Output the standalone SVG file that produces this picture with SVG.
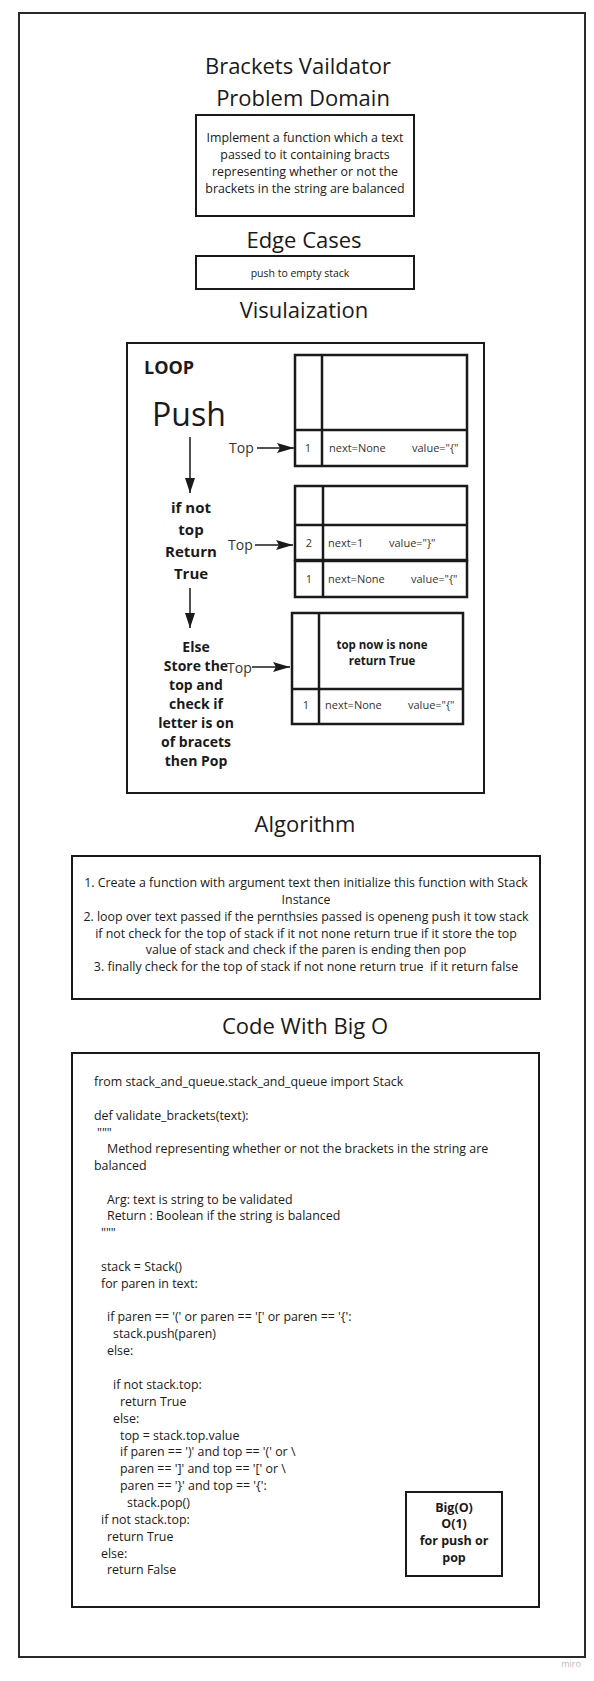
<svg xmlns="http://www.w3.org/2000/svg" width="594" height="1681" viewBox="0 0 594 1681">
<style>
text{font-family:"Open Sans","Liberation Sans",sans-serif;fill:#1a1a1a}
.h{font-size:22px;text-anchor:middle}
.box{fill:#fff;stroke:#1a1a1a;stroke-width:2}
.sb{fill:none;stroke:#1a1a1a;stroke-width:2.5}
.t{font-size:12.4px;text-anchor:middle}
.c{font-size:12.4px}
.b{font-weight:bold;font-size:14px;text-anchor:middle}
.b2{font-weight:bold;font-size:15px;text-anchor:middle}
.s{font-size:11px;fill:#333}
.sm{font-size:11px;fill:#333;text-anchor:middle}
.top{font-size:14px;fill:#333}
.con{stroke:#1a1a1a;stroke-width:1.5;fill:none}
</style>
<defs>
<marker id="ah" markerWidth="17" markerHeight="10" refX="17" refY="5" orient="auto" markerUnits="userSpaceOnUse">
<path d="M0,0 L17,5 L0,10 L3,5 z" fill="#1a1a1a"/>
</marker>
<marker id="av" markerWidth="15" markerHeight="10" refX="15" refY="5" orient="auto" markerUnits="userSpaceOnUse">
<path d="M0,0 L15,5 L0,10 z" fill="#1a1a1a"/>
</marker>
</defs>
<rect width="594" height="1681" fill="#fff"/>
<g id="frame">
<rect x="19" y="13" width="566" height="1644" fill="none" stroke="#2a2a2a" stroke-width="2"/>
<text x="571" y="1667" style="font-size:9px;fill:#bbb;text-anchor:middle">miro</text>
</g>
<g id="title">
<text class="h" x="298" y="74">Brackets Vaildator</text>
<text class="h" x="303" y="106">Problem Domain</text>
</g>
<g id="problem-domain">
<rect class="box" x="196" y="115" width="218" height="101"/>
<text class="t" x="305" y="142">Implement a function which a text</text>
<text class="t" x="305" y="159">passed to it containing bracts</text>
<text class="t" x="305" y="176">representing whether or not the</text>
<text class="t" x="305" y="193">brackets in the string are balanced</text>
</g>
<g id="edge-cases">
<text class="h" x="304" y="248">Edge Cases</text>
<rect class="box" x="196" y="256" width="218" height="33"/>
<text x="300" y="277" style="font-size:10.5px;text-anchor:middle">push to empty stack</text>
</g>
<g id="visualization">
<text class="h" x="304" y="318">Visulaization</text>
<rect class="box" x="127" y="343" width="357" height="450"/>
<text x="144" y="374" style="font-size:18px;font-weight:bold">LOOP</text>
<text x="152" y="426" style="font-size:32px">Push</text>
</g>
<g id="if-not-top">
<text class="b2" x="191" y="513">if not</text>
<text class="b2" x="191" y="535">top</text>
<text class="b2" x="191" y="557">Return</text>
<text class="b2" x="191" y="579">True</text>
</g>
<g id="else-pop">
<text class="b" x="196" y="652">Else</text>
<text class="b" x="196" y="671">Store the</text>
<text class="b" x="196" y="690">top and</text>
<text class="b" x="196" y="709">check if</text>
<text class="b" x="196" y="728">letter is on</text>
<text class="b" x="196" y="747">of bracets</text>
<text class="b" x="196" y="766">then Pop</text>
</g>
<g id="stack-1">
<rect class="sb" x="295" y="355" width="172" height="111"/>
<line class="sb" x1="322" y1="355" x2="322" y2="466"/>
<line class="sb" x1="295" y1="430" x2="467" y2="430"/>
<text class="sm" x="308" y="452">1</text>
<text class="s" x="329" y="452">next=None</text>
<text class="s" x="412" y="452">value="{"</text>
</g>
<g id="stack-2">
<rect class="sb" x="295" y="486" width="172" height="74"/>
<rect class="sb" x="295" y="561" width="172" height="36"/>
<line class="sb" x1="323" y1="486" x2="323" y2="597"/>
<line class="sb" x1="295" y1="525" x2="467" y2="525"/>
<text class="sm" x="309" y="547">2</text>
<text class="s" x="328" y="547">next=1</text>
<text class="s" x="389" y="547">value="}"</text>
<text class="sm" x="309" y="583">1</text>
<text class="s" x="328" y="583">next=None</text>
<text class="s" x="411" y="583">value="{"</text>
</g>
<g id="stack-3">
<rect class="sb" x="292" y="613" width="171" height="111"/>
<line class="sb" x1="319" y1="613" x2="319" y2="724"/>
<line class="sb" x1="292" y1="689" x2="463" y2="689"/>
<text x="382" y="649" style="font-size:11.5px;font-weight:bold;text-anchor:middle">top now is none</text>
<text x="382" y="665" style="font-size:11.5px;font-weight:bold;text-anchor:middle">return True</text>
<text class="sm" x="306" y="709">1</text>
<text class="s" x="325" y="709">next=None</text>
<text class="s" x="408" y="709">value="{"</text>
</g>
<g id="top-labels">
<text class="top" x="229" y="453">Top</text>
<text class="top" x="228" y="550">Top</text>
<text class="top" x="227" y="673">Top</text>
</g>
<g id="connectors">
<line class="con" x1="190" y1="437" x2="190" y2="493" marker-end="url(#av)"/>
<line class="con" x1="190" y1="588" x2="190" y2="628" marker-end="url(#av)"/>
<line class="con" x1="257" y1="448" x2="294" y2="448" marker-end="url(#ah)"/>
<line class="con" x1="255" y1="545" x2="293" y2="545" marker-end="url(#ah)"/>
<line class="con" x1="252" y1="667" x2="290" y2="667" marker-end="url(#ah)"/>
</g>
<g id="algorithm">
<text class="h" x="305" y="832">Algorithm</text>
<rect class="box" x="72" y="856" width="468" height="143"/>
<text class="t" x="306" y="887">1. Create a function with argument text then initialize this function with Stack</text>
<text class="t" x="306" y="904">Instance</text>
<text class="t" x="306" y="921">2. loop over text passed if the pernthsies passed is openeng push it tow stack</text>
<text class="t" x="306" y="938">if not check for the top of stack if it not none return true if it store the top</text>
<text class="t" x="306" y="954">value of stack and check if the paren is ending then pop</text>
<text class="t" x="306" y="971" xml:space="preserve">3. finally check for the top of stack if not none return true  if it return false</text>
</g>
<g id="code">
<text class="h" x="305" y="1034">Code With Big O</text>
<rect class="box" x="72" y="1053" width="467" height="554"/>
<g xml:space="preserve">
<text class="c" x="94" y="1086">from stack_and_queue.stack_and_queue import Stack</text>
<text class="c" x="94" y="1120">def validate_brackets(text):</text>
<text class="c" x="97" y="1137">"""</text>
<text class="c" x="107" y="1153">Method representing whether or not the brackets in the string are</text>
<text class="c" x="94" y="1170">balanced</text>
<text class="c" x="107" y="1204">Arg: text is string to be validated</text>
<text class="c" x="107" y="1220">Return : Boolean if the string is balanced</text>
<text class="c" x="101" y="1237">"""</text>
<text class="c" x="101" y="1271">stack = Stack()</text>
<text class="c" x="101" y="1288">for paren in text:</text>
<text class="c" x="107" y="1321">if paren == '(' or paren == '[' or paren == '{':</text>
<text class="c" x="113" y="1338">stack.push(paren)</text>
<text class="c" x="107" y="1355">else:</text>
<text class="c" x="113" y="1389">if not stack.top:</text>
<text class="c" x="120" y="1406">return True</text>
<text class="c" x="113" y="1423">else:</text>
<text class="c" x="120" y="1440">top = stack.top.value</text>
<text class="c" x="120" y="1456">if paren == ')' and top == '(' or \</text>
<text class="c" x="120" y="1473">paren == ']' and top == '[' or \</text>
<text class="c" x="120" y="1490">paren == '}' and top == '{':</text>
<text class="c" x="127" y="1507">stack.pop()</text>
<text class="c" x="101" y="1524">if not stack.top:</text>
<text class="c" x="107" y="1541">return True</text>
<text class="c" x="101" y="1558">else:</text>
<text class="c" x="107" y="1574">return False</text>
</g>
</g>
<g id="big-o">
<rect class="box" x="406" y="1492" width="96" height="84"/>
<text x="454" y="1512" style="font-size:12.5px;font-weight:bold;text-anchor:middle">Big(O)</text>
<text x="454" y="1528" style="font-size:12.5px;font-weight:bold;text-anchor:middle">O(1)</text>
<text x="454" y="1545" style="font-size:12.5px;font-weight:bold;text-anchor:middle">for push or</text>
<text x="454" y="1562" style="font-size:12.5px;font-weight:bold;text-anchor:middle">pop</text>
</g>
</svg>
